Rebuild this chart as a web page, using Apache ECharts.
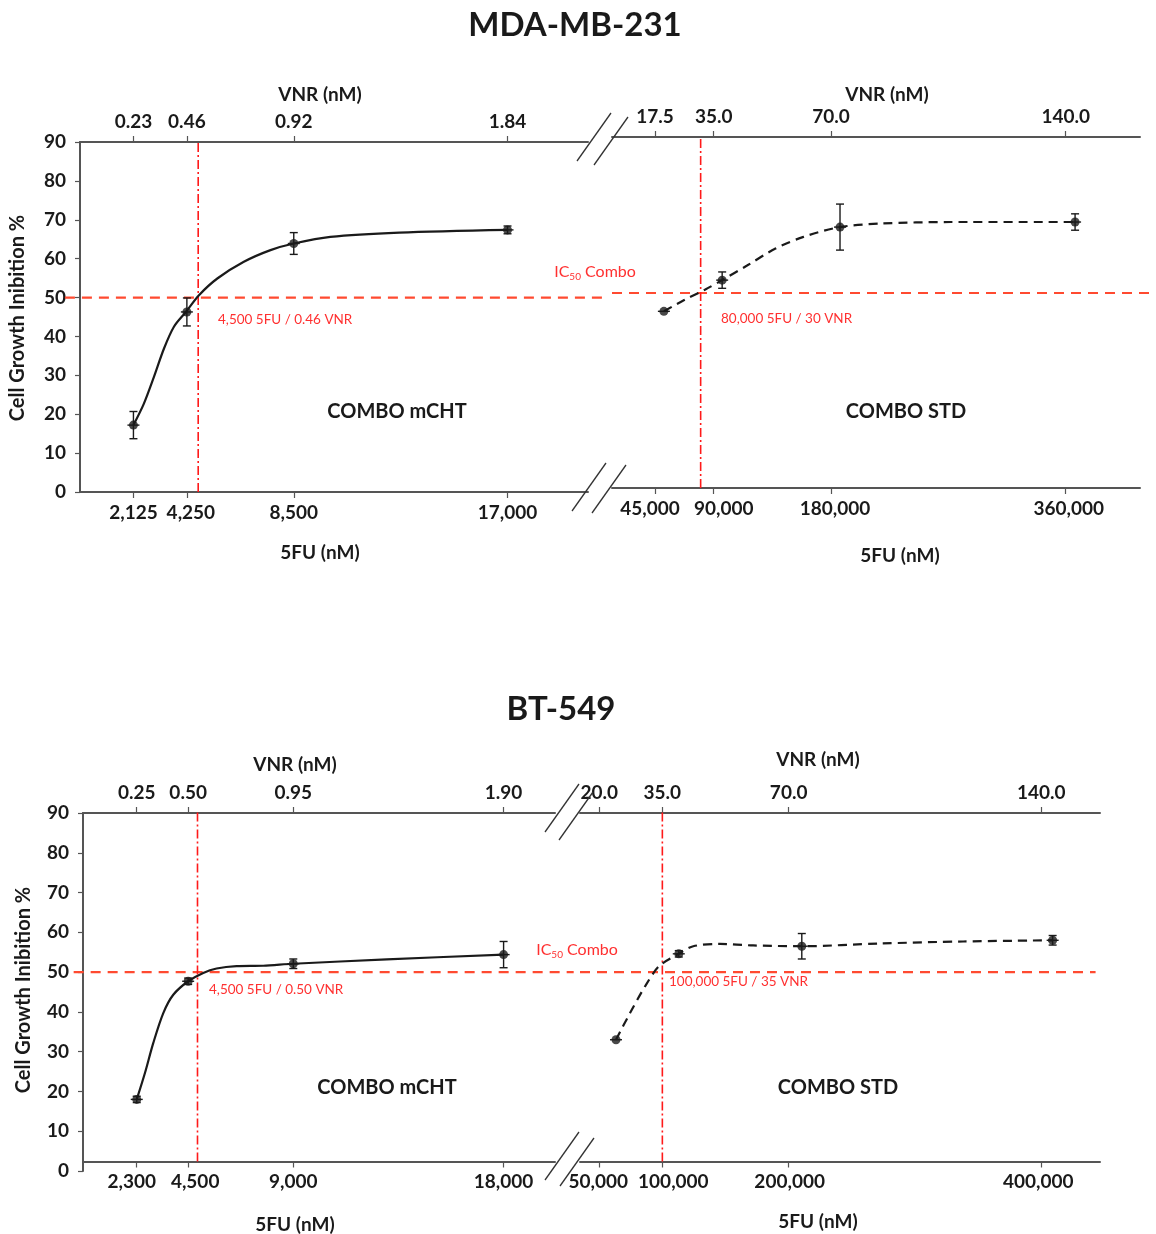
<!DOCTYPE html>
<html>
<head>
<meta charset="utf-8">
<title>Cell growth inhibition: COMBO mCHT vs COMBO STD</title>
<script src="https://cdn.jsdelivr.net/npm/echarts@6/dist/echarts.min.js"></script>
<style>
  html, body { margin: 0; padding: 0; background: #fff; }
  #chart { width: 1156px; height: 1234px; }
</style>
</head>
<body>
<div id="chart"></div>
<script>
// values (5FU dose in nM, inhibition in %)
// MDA-MB-231
const mdaMchtDose = [2125, 4250, 8500, 17000];
const mdaMchtInhib = [17.2, 46.3, 63.9, 67.4];
const mdaMchtErr = [3.5, 3.6, 2.8, 1.0];
const mdaStdDose = [51800, 96500, 186900, 367200];
const mdaStdInhib = [45.3, 53.3, 66.9, 68.2];
const mdaStdErr = [0, 2.1, 5.9, 2.1];
// fitted curves
const mdaMchtFitDose = [2125, 2545, 2940, 3340, 3735, 4210, 4730, 5460, 6515, 7575, 8500, 9956, 12700, 17000];
const mdaMchtFitInhib = [17.2, 22.8, 29.6, 36.9, 42.5, 46.3, 50.6, 54.9, 59.2, 62.2, 63.9, 65.6, 66.7, 67.4];
const mdaStdFitDose = [51800, 67400, 83600, 96500, 115900, 137400, 158900, 186900, 218100, 272000, 367200];
const mdaStdFitInhib = [45.3, 48.2, 50.9, 53.3, 57.1, 61.4, 64.4, 66.9, 67.8, 68.2, 68.2];
const mdaMchtTicks = [2125, 4250, 8500, 17000];
const mdaMchtVnr = ['0.23', '0.46', '0.92', '1.84'];
const mdaStdTicks = [45000, 90000, 180000, 360000];
const mdaStdVnr = ['17.5', '35.0', '70.0', '140.0'];
const mdaIc50Dose = [4700, 80000];

// BT-549
const btMchtDose = [2300, 4500, 9000, 18000];
const btMchtInhib = [18.0, 47.7, 52.1, 54.4];
const btMchtErr = [0.8, 0.8, 1.2, 3.3];
const btStdDose = [63300, 113000, 210400, 409000];
const btStdInhib = [33.0, 54.6, 56.5, 58.0];
const btStdErr = [0, 0.8, 3.2, 1.2];
const btMchtFitDose = [2300, 2654, 3009, 3436, 3863, 4500, 5145, 5718, 6573, 7709, 9000, 13000, 18000];
const btMchtFitInhib = [18.0, 24.7, 32.2, 39.7, 44.3, 47.7, 49.8, 50.9, 51.5, 51.6, 52.1, 53.2, 54.4];
const btStdFitDose = [63300, 74400, 86300, 97400, 113000, 124500, 145700, 172000, 210400, 272400, 338200, 409000];
const btStdFitInhib = [33.0, 39.7, 46.4, 51.5, 54.6, 56.5, 57.1, 56.7, 56.5, 57.2, 57.7, 58.0];
const btMchtTicks = [2300, 4500, 9000, 18000];
const btMchtVnr = ['0.25', '0.50', '0.95', '1.90'];
const btStdTicks = [50000, 100000, 200000, 400000];
const btStdVnr = ['20.0', '35.0', '70.0', '140.0'];
const btIc50Dose = [4900, 100000];

const ic50 = 50;

const FONT = 'Lato, "Open Sans", sans-serif';
const RED = '#ff3030';
const INK = '#1a1a1a';
const AXIS = '#555';
const TICK_FONT = 19;

// one grid per sub-plot: top-left, top-right, bottom-left, bottom-right
// nudge: horizontal pixel shift of each 5FU label, as in the original figure
const layout = [
  { left: 80, top: 142, width: 508, height: 350, min: 0, max: 20200, offset: 0,
    hx: [-600, 21000], vy: [0, 90], nudge: [0, 4, 0, 0] },
  { left: 612, top: 137, width: 528, height: 351, min: 12000, max: 417000, offset: 0,
    hx: [12000, 432000], vy: [0, 90], nudge: [-5, 10, 4, 3] },
  { left: 83, top: 813, width: 472, height: 358, min: 0, max: 20200, offset: -9.5,
    hx: [-400, 21000], vy: [2.4, 90.5], nudge: [-5, 7, 0, 0] },
  { left: 580, top: 813, width: 520, height: 358, min: 34800, max: 446500, offset: -9.5,
    hx: [34800, 443000], vy: [2.4, 90.5], nudge: [-1, 11, 1, -3] }
];

const plots = [
  { dose: mdaMchtDose, inhib: mdaMchtInhib, err: mdaMchtErr, fitX: mdaMchtFitDose, fitY: mdaMchtFitInhib,
    ticks: mdaMchtTicks, vnr: mdaMchtVnr, ic50Dose: mdaIc50Dose[0], dashed: false },
  { dose: mdaStdDose, inhib: mdaStdInhib, err: mdaStdErr, fitX: mdaStdFitDose, fitY: mdaStdFitInhib,
    ticks: mdaStdTicks, vnr: mdaStdVnr, ic50Dose: mdaIc50Dose[1], dashed: true },
  { dose: btMchtDose, inhib: btMchtInhib, err: btMchtErr, fitX: btMchtFitDose, fitY: btMchtFitInhib,
    ticks: btMchtTicks, vnr: btMchtVnr, ic50Dose: btIc50Dose[0], dashed: false },
  { dose: btStdDose, inhib: btStdInhib, err: btStdErr, fitX: btStdFitDose, fitY: btStdFitInhib,
    ticks: btStdTicks, vnr: btStdVnr, ic50Dose: btIc50Dose[1], dashed: true }
];

const tickLabel = { color: INK, fontFamily: FONT, fontWeight: 'bold', fontSize: TICK_FONT, hideOverlap: false };

// labels are looked up by tick value; the blank labels at the axis ends keep
// ECharts' min/max overlap check from dropping close neighbours
function tickFormatter(ticks, labels, useRich) {
  return function (v) {
    const i = ticks.findIndex(t => Math.abs(t - v) < 1e-6 * Math.max(1, t));
    if (i < 0) return '';
    return useRich ? '{n' + i + '|' + labels[i] + '}' : labels[i];
  };
}
function nudgeRich(nudge) {
  const rich = {};
  nudge.forEach((n, k) => {
    rich['n' + k] = {
      fontFamily: FONT, fontWeight: 'bold', fontSize: TICK_FONT, color: INK,
      padding: [0, n < 0 ? -2 * n : 0, 0, n > 0 ? 2 * n : 0]
    };
  });
  return rich;
}

const grid = [], xAxis = [], yAxis = [], series = [];

layout.forEach((g, i) => {
  const p = plots[i];
  const leftPlot = i % 2 === 0;
  const labelAt = [g.min].concat(p.ticks, [g.max]);
  const fuText = p.ticks.map(t => t.toLocaleString('en-US'));
  grid.push({ left: g.left, top: g.top, width: g.width, height: g.height });

  // bottom axis: 5FU
  xAxis.push({
    type: 'value', gridIndex: i, position: 'bottom', min: g.min, max: g.max, offset: g.offset,
    axisLine: { show: true, onZero: false, lineStyle: { color: AXIS, width: 2 } },
    axisTick: { show: true, customValues: p.ticks, length: 6, lineStyle: { color: AXIS, width: 1.2 } },
    axisLabel: Object.assign({ customValues: labelAt, margin: 11, formatter: tickFormatter(p.ticks, fuText, true),
      rich: nudgeRich(g.nudge) }, tickLabel),
    splitLine: { show: false }
  });
  // top axis: VNR, same dose scale
  xAxis.push({
    type: 'value', gridIndex: i, position: 'top', min: g.min, max: g.max,
    axisLine: { show: true, onZero: false, lineStyle: { color: AXIS, width: 2 } },
    axisTick: { show: true, customValues: p.ticks, length: 6, lineStyle: { color: AXIS, width: 1.2 } },
    axisLabel: Object.assign({ customValues: labelAt, margin: 11, formatter: tickFormatter(p.ticks, p.vnr, false) }, tickLabel),
    splitLine: { show: false }
  });
  yAxis.push({
    type: 'value', gridIndex: i, min: 0, max: 90, interval: 10, show: leftPlot,
    axisLine: { show: true, lineStyle: { color: AXIS, width: 2 } },
    axisTick: { show: true, length: 5, lineStyle: { color: AXIS, width: 1.2 } },
    axisLabel: Object.assign({ margin: 14 }, tickLabel),
    splitLine: { show: false }
  });

  const xi = i * 2;

  // IC50 guides
  series.push({
    type: 'custom', xAxisIndex: xi, yAxisIndex: i, silent: true, z: 2,
    data: [[g.hx[0], g.hx[1], ic50]],
    encode: { x: [0, 1], y: 2 },
    renderItem: (params, api) => {
      const a = api.coord([api.value(0), api.value(2)]);
      const b = api.coord([api.value(1), api.value(2)]);
      return { type: 'line', shape: { x1: a[0], y1: a[1], x2: b[0], y2: b[1] },
        style: { stroke: '#ff4a30', lineWidth: 2.2, lineDash: [10, 7] } };
    }
  });
  series.push({
    type: 'custom', xAxisIndex: xi, yAxisIndex: i, silent: true, z: 2,
    data: [[p.ic50Dose, g.vy[0], g.vy[1]]],
    encode: { x: 0, y: [1, 2] },
    renderItem: (params, api) => {
      const a = api.coord([api.value(0), api.value(1)]);
      const b = api.coord([api.value(0), api.value(2)]);
      return { type: 'line', shape: { x1: a[0], y1: a[1], x2: b[0], y2: b[1] },
        style: { stroke: '#ff1a1a', lineWidth: 1.6, lineDash: [9, 3, 2, 3] } };
    }
  });

  // fitted curve
  series.push({
    type: 'line', xAxisIndex: xi, yAxisIndex: i, z: 3, silent: true,
    data: p.fitX.map((d, k) => [d, p.fitY[k]]),
    smooth: 0.3, showSymbol: false,
    lineStyle: { color: INK, width: 2.2, type: p.dashed ? [9, 6] : 'solid' }
  });
  // measured points
  series.push({
    type: 'scatter', xAxisIndex: xi, yAxisIndex: i, z: 4,
    data: p.dose.map((d, k) => [d, p.inhib[k]]),
    symbol: 'circle', symbolSize: 9,
    itemStyle: { color: INK }
  });

  // error bars
  series.push({
    type: 'custom', xAxisIndex: xi, yAxisIndex: i, z: 5, silent: true,
    data: p.dose.map((d, k) => [d, p.inhib[k], p.err[k]]),
    encode: { x: 0, y: 1 },
    renderItem: (params, api) => {
      const x = api.value(0), y = api.value(1), e = api.value(2);
      const c = api.coord([x, y]);
      const hi = api.coord([x, y + e]);
      const lo = api.coord([x, y - e]);
      const style = { stroke: INK, lineWidth: 1.4 };
      const kids = [{ type: 'line', shape: { x1: c[0] - 6, y1: c[1], x2: c[0] + 6, y2: c[1] }, style }];
      if (e > 0.4) {
        kids.push(
          { type: 'line', shape: { x1: c[0], y1: hi[1], x2: c[0], y2: lo[1] }, style },
          { type: 'line', shape: { x1: c[0] - 4, y1: hi[1], x2: c[0] + 4, y2: hi[1] }, style },
          { type: 'line', shape: { x1: c[0] - 4, y1: lo[1], x2: c[0] + 4, y2: lo[1] }, style }
        );
      }
      return { type: 'group', children: kids };
    }
  });
});

// text and axis-break marks
function label(text, x, y, size, opts) {
  return {
    type: 'text', x: x, y: y, rotation: (opts && opts.rotation) || 0, z: 10,
    style: {
      text: text, fill: INK, font: 'bold ' + size + 'px ' + FONT,
      align: 'center', verticalAlign: 'middle'
    }
  };
}
function note(text, x, y) {
  return { type: 'text', x: x, y: y, z: 10,
    style: { text: text, fill: RED, font: '13.5px ' + FONT, align: 'left', verticalAlign: 'middle' } };
}
function ic50Label(x, y) {
  return { type: 'text', x: x, y: y, z: 10,
    style: {
      text: '{a|IC}{s|50}{a| Combo}', align: 'center', verticalAlign: 'middle',
      rich: {
        a: { fontFamily: FONT, fontSize: 16, fill: RED, color: RED },
        s: { fontFamily: FONT, fontSize: 10, fill: RED, color: RED, padding: [9, 0, 0, 0] }
      }
    } };
}
function slash(cx, cy) {
  return { type: 'line', z: 10, shape: { x1: cx - 17, y1: cy + 24, x2: cx + 17, y2: cy - 24 },
    style: { stroke: '#333', lineWidth: 1.3 } };
}

const graphic = [
  label('MDA-MB-231', 575, 25, 33),
  label('BT-549', 561, 709, 33),
  label('Cell Growth Inibition %', 18, 318, 20, { rotation: Math.PI / 2 }),
  label('Cell Growth Inibition %', 24, 990, 20, { rotation: Math.PI / 2 }),
  label('VNR (nM)', 320, 95, 19), label('VNR (nM)', 887, 95, 19),
  label('VNR (nM)', 295, 765, 19), label('VNR (nM)', 818, 760, 19),
  label('5FU (nM)', 320, 553, 19), label('5FU (nM)', 900, 556, 19),
  label('5FU (nM)', 295, 1225, 19), label('5FU (nM)', 818, 1222, 19),
  label('COMBO mCHT', 397, 412, 20), label('COMBO STD', 906, 412, 20),
  label('COMBO mCHT', 387, 1088, 20), label('COMBO STD', 838, 1088, 20),
  ic50Label(595, 272), ic50Label(577, 950),
  note('4,500 5FU / 0.46 VNR', 218, 320),
  note('80,000 5FU / 30 VNR', 721, 319),
  note('4,500 5FU / 0.50 VNR', 209, 990),
  note('100,000 5FU / 35 VNR', 669, 982),
  slash(594, 137), slash(611, 141), slash(589, 487), slash(609, 489),
  slash(562, 808), slash(576, 816), slash(562, 1156), slash(577, 1162)
];

const chart = echarts.init(document.getElementById('chart'), null, { renderer: 'canvas' });
chart.setOption({
  backgroundColor: '#fff',
  animation: false,
  grid: grid,
  xAxis: xAxis,
  yAxis: yAxis,
  series: series,
  graphic: graphic
});
</script>
</body>
</html>
